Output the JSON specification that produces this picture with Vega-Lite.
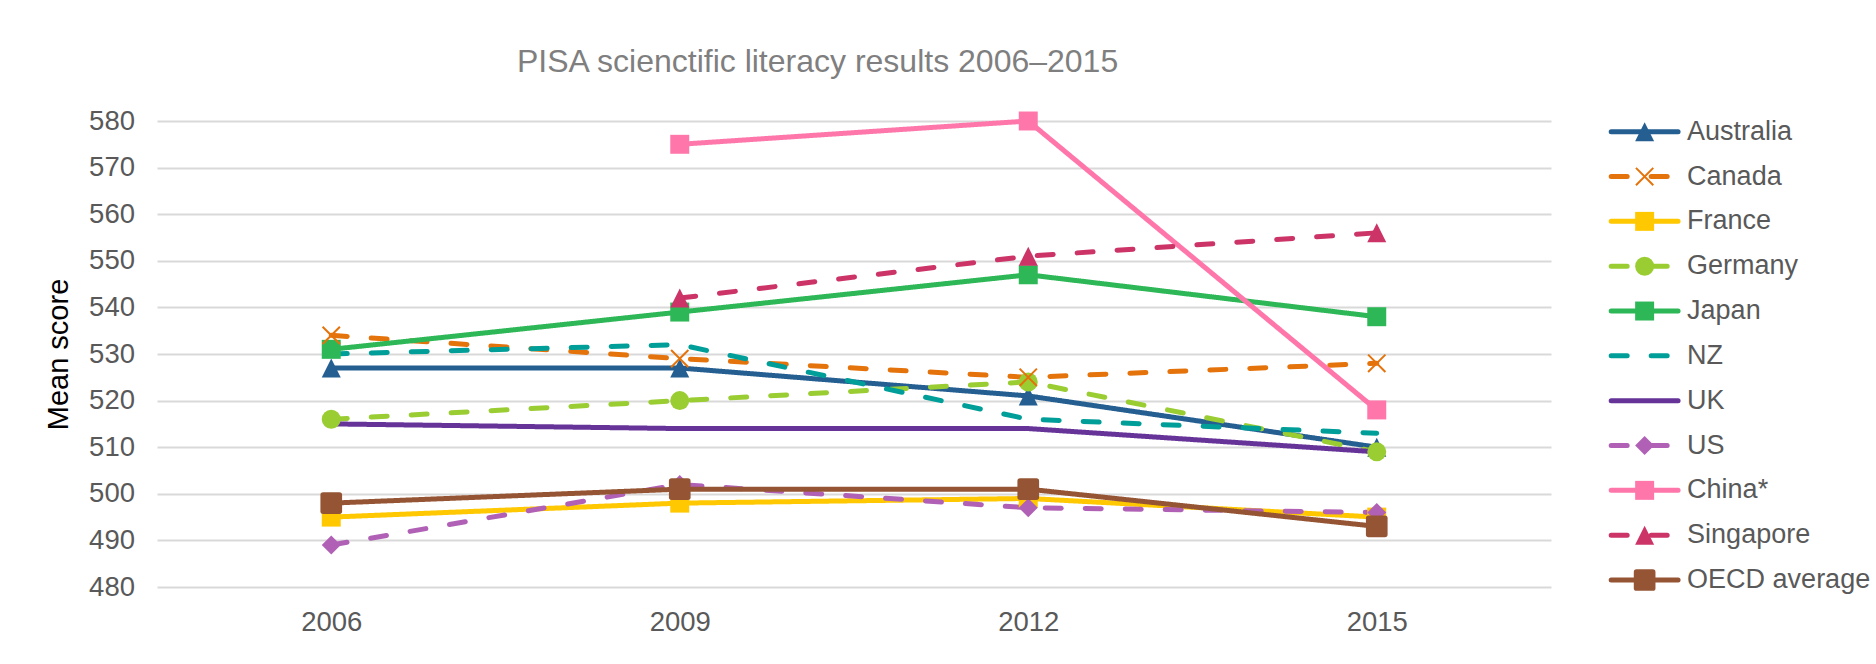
{
  "$schema": "https://vega.github.io/schema/vega-lite/v6.json",
  "autosize": {"type": "none"},
  "width": 1394,
  "height": 466,
  "padding": {"left": 157, "top": 121, "right": 325, "bottom": 77},
  "background": "white",
  "title": {"text": "PISA scienctific literacy results 2006–2015", "anchor": "start", "frame": "group", "dx": 360, "offset": 3, "baseline": "alphabetic", "fontSize": 32, "fontWeight": "normal", "color": "#7F7F7F"},
  "config": {"view": {"stroke": null}, "font": "Liberation Sans"},
  "data": {"values": [
    {"country": "Australia", "year": 2006, "score": 527},
    {"country": "Australia", "year": 2009, "score": 527},
    {"country": "Australia", "year": 2012, "score": 521},
    {"country": "Australia", "year": 2015, "score": 510},
    {"country": "Canada", "year": 2006, "score": 534},
    {"country": "Canada", "year": 2009, "score": 529},
    {"country": "Canada", "year": 2012, "score": 525},
    {"country": "Canada", "year": 2015, "score": 528},
    {"country": "France", "year": 2006, "score": 495},
    {"country": "France", "year": 2009, "score": 498},
    {"country": "France", "year": 2012, "score": 499},
    {"country": "France", "year": 2015, "score": 495},
    {"country": "Germany", "year": 2006, "score": 516},
    {"country": "Germany", "year": 2009, "score": 520},
    {"country": "Germany", "year": 2012, "score": 524},
    {"country": "Germany", "year": 2015, "score": 509},
    {"country": "Japan", "year": 2006, "score": 531},
    {"country": "Japan", "year": 2009, "score": 539},
    {"country": "Japan", "year": 2012, "score": 547},
    {"country": "Japan", "year": 2015, "score": 538},
    {"country": "NZ", "year": 2006, "score": 530},
    {"country": "NZ", "year": 2009, "score": 532},
    {"country": "NZ", "year": 2012, "score": 516},
    {"country": "NZ", "year": 2015, "score": 513},
    {"country": "UK", "year": 2006, "score": 515},
    {"country": "UK", "year": 2009, "score": 514},
    {"country": "UK", "year": 2012, "score": 514},
    {"country": "UK", "year": 2015, "score": 509},
    {"country": "US", "year": 2006, "score": 489},
    {"country": "US", "year": 2009, "score": 502},
    {"country": "US", "year": 2012, "score": 497},
    {"country": "US", "year": 2015, "score": 496},
    {"country": "China*", "year": 2009, "score": 575},
    {"country": "China*", "year": 2012, "score": 580},
    {"country": "China*", "year": 2015, "score": 518},
    {"country": "Singapore", "year": 2009, "score": 542},
    {"country": "Singapore", "year": 2012, "score": 551},
    {"country": "Singapore", "year": 2015, "score": 556},
    {"country": "OECD average", "year": 2006, "score": 498},
    {"country": "OECD average", "year": 2009, "score": 501},
    {"country": "OECD average", "year": 2012, "score": 501},
    {"country": "OECD average", "year": 2015, "score": 493}
  ]},
  "resolve": {"scale": {"y": "independent"}},
  "layer": [
    {
      "layer": [
        {
          "mark": {"type": "line", "strokeWidth": 5, "strokeCap": "round", "strokeJoin": "round"},
          "encoding": {
            "x": {"field": "year", "type": "quantitative", "scale": {"domain": [2004.5, 2016.5], "nice": false, "zero": false},
              "axis": {"values": [2006, 2009, 2012, 2015], "format": "d", "grid": false, "ticks": false, "domain": false, "labelPadding": 21, "labelFontSize": 27.5, "labelColor": "#595959", "title": null}},
            "y": {"field": "score", "type": "quantitative", "scale": {"domain": [480, 580], "nice": false, "zero": false},
              "axis": {"values": [480, 490, 500, 510, 520, 530, 540, 550, 560, 570, 580], "grid": true, "gridColor": "#D9D9D9", "gridWidth": 2, "ticks": false, "domain": false, "labelPadding": 22.5, "labelFontSize": 27.5, "labelColor": "#595959", "title": "Mean score", "titleFontSize": 29, "titleFontWeight": "normal", "titleColor": "#000000", "titlePadding": 15}},
            "color": {"field": "country", "type": "nominal", "legend": null,
              "scale": {"domain": ["Australia", "Canada", "France", "Germany", "Japan", "NZ", "UK", "US", "China*", "Singapore", "OECD average"],
                "range": ["#255E91", "#E5730B", "#FFC800", "#9ACD32", "#2DB757", "#009E99", "#663399", "#B061B5", "#FF77AA", "#CC3366", "#955535"]}},
            "strokeDash": {"field": "country", "type": "nominal", "legend": null,
              "scale": {"domain": ["Australia", "Canada", "France", "Germany", "Japan", "NZ", "UK", "US", "China*", "Singapore", "OECD average"],
                "range": [[1, 0], [16, 24], [1, 0], [16, 24], [1, 0], [16, 24], [1, 0], [16, 24], [1, 0], [16, 24], [1, 0]]}}
          }
        },
        {
          "transform": [{"filter": "datum.country != 'NZ' && datum.country != 'UK' && datum.country != 'Canada' && datum.country != 'OECD average'"}],
          "mark": {"type": "point", "filled": true, "opacity": 1, "size": 360},
          "encoding": {
            "x": {"field": "year", "type": "quantitative"},
            "y": {"field": "score", "type": "quantitative"},
            "color": {"field": "country", "type": "nominal", "legend": null},
            "shape": {"field": "country", "type": "nominal", "legend": null,
              "scale": {"domain": ["Australia", "Canada", "France", "Germany", "Japan", "NZ", "UK", "US", "China*", "Singapore", "OECD average"],
                "range": ["M0,-1L1,1L-1,1Z", "circle", "square", "circle", "square", "circle", "circle", "diamond", "square", "M0,-1L1,1L-1,1Z", "M-0.75,-1L0.75,-1Q1,-1 1,-0.75L1,0.75Q1,1 0.75,1L-0.75,1Q-1,1 -1,0.75L-1,-0.75Q-1,-1 -0.75,-1Z"]}}
          }
        },
        {
          "transform": [{"filter": "datum.country == 'OECD average'"}],
          "mark": {"type": "point", "filled": true, "opacity": 1, "size": 470},
          "encoding": {
            "x": {"field": "year", "type": "quantitative"},
            "y": {"field": "score", "type": "quantitative"},
            "color": {"field": "country", "type": "nominal", "legend": null},
            "shape": {"field": "country", "type": "nominal", "legend": null}
          }
        },
        {
          "transform": [{"filter": "datum.country == 'Canada'"}],
          "mark": {"type": "point", "filled": false, "opacity": 1, "size": 300, "strokeWidth": 2, "shape": "M-1,-1L1,1M-1,1L1,-1"},
          "encoding": {
            "x": {"field": "year", "type": "quantitative"},
            "y": {"field": "score", "type": "quantitative"},
            "color": {"field": "country", "type": "nominal", "legend": null}
          }
        }
      ]
    },
    {
      "transform": [{"filter": "datum.year == 2015"}],
      "layer": [
        {
          "mark": {"type": "rule", "strokeWidth": 5, "strokeCap": "round"},
          "encoding": {
            "x": {"datum": 2017.018, "type": "quantitative"},
            "x2": {"datum": 2017.594},
            "y": {"field": "country", "type": "nominal", "axis": null,
              "scale": {"type": "point", "domain": ["Australia", "Canada", "France", "Germany", "Japan", "NZ", "UK", "US", "China*", "Singapore", "OECD average"], "padding": 0.1974, "align": 0.605}},
            "color": {"field": "country", "type": "nominal", "legend": null},
            "strokeDash": {"field": "country", "type": "nominal", "legend": null}
          }
        },
        {
          "transform": [{"filter": "datum.country != 'NZ' && datum.country != 'UK' && datum.country != 'Canada' && datum.country != 'OECD average'"}],
          "mark": {"type": "point", "filled": true, "opacity": 1, "size": 360},
          "encoding": {
            "x": {"datum": 2017.306, "type": "quantitative"},
            "y": {"field": "country", "type": "nominal", "axis": null},
            "color": {"field": "country", "type": "nominal", "legend": null},
            "shape": {"field": "country", "type": "nominal", "legend": null}
          }
        },
        {
          "transform": [{"filter": "datum.country == 'OECD average'"}],
          "mark": {"type": "point", "filled": true, "opacity": 1, "size": 470},
          "encoding": {
            "x": {"datum": 2017.306, "type": "quantitative"},
            "y": {"field": "country", "type": "nominal", "axis": null},
            "color": {"field": "country", "type": "nominal", "legend": null},
            "shape": {"field": "country", "type": "nominal", "legend": null}
          }
        },
        {
          "transform": [{"filter": "datum.country == 'Canada'"}],
          "mark": {"type": "point", "filled": false, "opacity": 1, "size": 300, "strokeWidth": 2, "shape": "M-1,-1L1,1M-1,1L1,-1"},
          "encoding": {
            "x": {"datum": 2017.306, "type": "quantitative"},
            "y": {"field": "country", "type": "nominal", "axis": null},
            "color": {"field": "country", "type": "nominal", "legend": null}
          }
        },
        {
          "mark": {"type": "text", "align": "left", "baseline": "middle", "dx": 9, "fontSize": 27, "color": "#595959"},
          "encoding": {
            "x": {"datum": 2017.594, "type": "quantitative"},
            "y": {"field": "country", "type": "nominal", "axis": null},
            "text": {"field": "country", "type": "nominal"}
          }
        }
      ]
    }
  ]
}
